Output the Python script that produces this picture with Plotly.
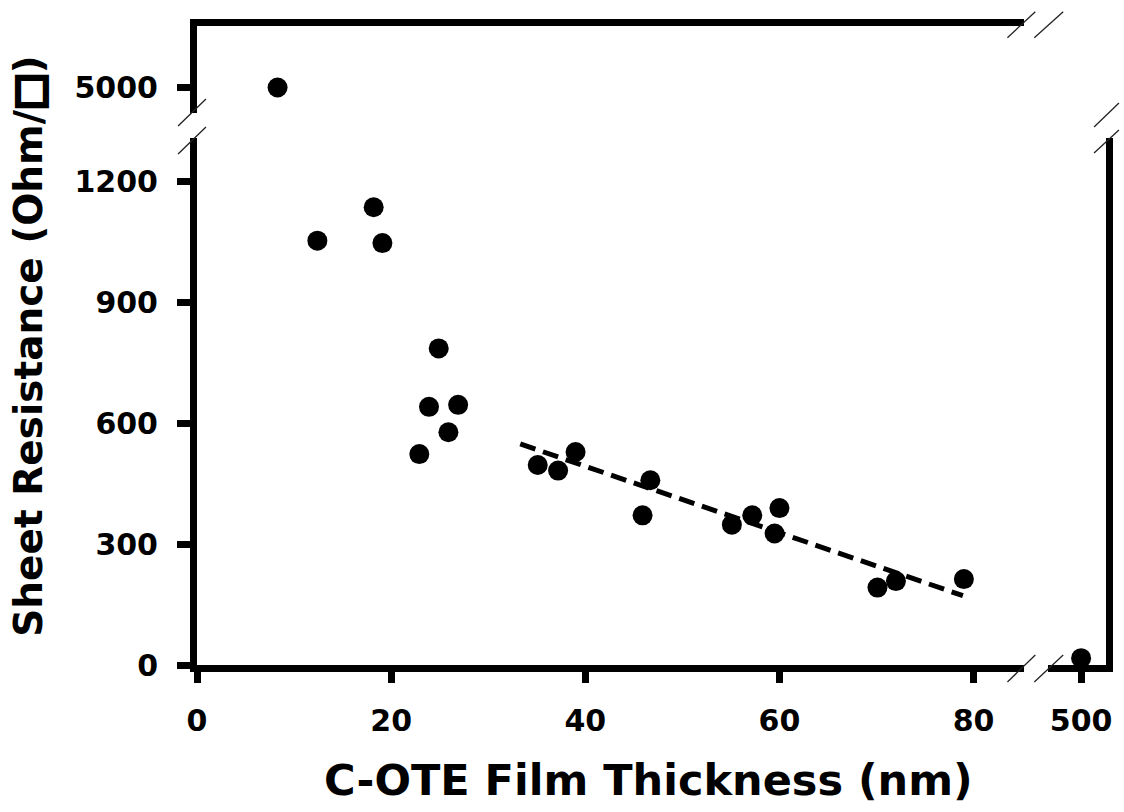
import plotly.graph_objects as go

# ---- data ----
thickness_nm = [12.4, 18.2, 19.1, 22.9, 23.9, 24.9, 25.9, 26.9, 35.1, 37.2, 39.0,
                45.9, 46.7, 55.1, 57.2, 59.5, 60.0, 70.1, 72.0, 79.0]
sheet_res = [1052, 1135, 1046, 523, 640, 785, 577, 645, 496, 482, 528,
             371, 458, 348, 371, 326, 389, 192, 208, 213]
high_thickness = [8.3]
high_res = [5000]
thick_film_nm = [500]
thick_film_res = [17]
fit_x = [33.3, 78.9]
fit_y = [548, 172]

x_ticks_low = [0, 20, 40, 60, 80]
x_ticks_high = [500]
y_ticks_low = [0, 300, 600, 900, 1200]
y_ticks_high = [5000]

# ---- geometry ----
L, R, T, B = 197, 14, 26, 147
W = 1124 - L - R
H = 812 - T - B
def px(X):
    return (X - L) / W
def py(Y):
    return (T + H - Y) / H

x_left_dom = [0, px(1028)]
x_right_dom = [px(1052), 1]
y_low_dom = [0, py(138)]
y_high_dom = [py(113), 1]

FONT = dict(family="DejaVu Sans", size=30, color="black", weight="bold")
LW = 7

fig = go.Figure()
marker = dict(color="black", size=20, line=dict(width=0))
fig.add_trace(go.Scatter(x=fit_x, y=fit_y, mode="lines", xaxis="x", yaxis="y",
                         line=dict(color="black", width=5, dash="16px,8px"),
                         showlegend=False, hoverinfo="skip"))
fig.add_trace(go.Scatter(x=thickness_nm, y=sheet_res, mode="markers", xaxis="x", yaxis="y",
                         marker=marker, showlegend=False))
fig.add_trace(go.Scatter(x=high_thickness, y=high_res, mode="markers", xaxis="x3", yaxis="y3",
                         marker=marker, showlegend=False))
fig.add_trace(go.Scatter(x=thick_film_nm, y=thick_film_res, mode="markers", xaxis="x2", yaxis="y2",
                         marker=marker, showlegend=False, cliponaxis=False))

xr_low = [0, 831 / 9.75]
xr_high = [500 - 33 / 9.75, 500 + 25 / 9.75]
ys = 484 / 1200
yr_low = [0, (665 - 138) / ys]
yr_high = [5000 - 25.5 / ys, 5000 + 61.5 / ys]

common = dict(showline=True, linewidth=LW, linecolor="black", showgrid=False,
              zeroline=False, tickfont=FONT, tickcolor="black", tickwidth=LW)
hidden = dict(ticks="", showticklabels=False)

fig.update_layout(
    width=1124, height=812,
    margin=dict(l=L, r=R, t=T, b=B),
    paper_bgcolor="white", plot_bgcolor="white",
    xaxis=dict(domain=x_left_dom, range=xr_low, anchor="y", side="bottom",
               tickvals=x_ticks_low, ticks="outside", ticklen=11, ticklabelstandoff=12, **common),
    xaxis2=dict(domain=x_right_dom, range=xr_high, anchor="y2", side="bottom",
                tickvals=x_ticks_high, ticks="outside", ticklen=11, ticklabelstandoff=12, **common),
    xaxis3=dict(domain=x_left_dom, range=xr_low, anchor="y3", side="top", **hidden, **common),
    xaxis4=dict(domain=x_right_dom, range=xr_high, anchor="y4", side="top", **hidden, **common),
    yaxis=dict(domain=y_low_dom, range=yr_low, anchor="x", side="left",
               tickvals=y_ticks_low, ticks="outside", ticklen=13, ticklabelstandoff=13, **common),
    yaxis2=dict(domain=y_low_dom, range=yr_low, anchor="x2", side="right", **hidden, **common),
    yaxis3=dict(domain=y_high_dom, range=yr_high, anchor="x3", side="left",
                tickvals=y_ticks_high, ticks="outside", ticklen=13, ticklabelstandoff=13, **common),
    yaxis4=dict(domain=y_high_dom, range=yr_high, anchor="x4", side="right", **hidden, **common),
)

# axis-break slashes (pixel positions converted to paper coordinates)
slashes = [
    ((1011, 37.7), (1039, 11.7)), ((1038, 37.7), (1067, 11.7)),   # top
    ((1011, 682), (1039, 655)), ((1038, 682), (1067, 655)),       # bottom
    ((178, 126), (206, 99)), ((178, 154), (206, 127)),           # left
    ((1098, 127), (1123, 103)), ((1098, 153), (1123, 130)),      # right
]
for (a, b) in slashes:
    fig.add_shape(type="line", xref="paper", yref="paper",
                  x0=px(a[0]), y0=py(a[1]), x1=px(b[0]), y1=py(b[1]),
                  line=dict(color="#222", width=1.3))

fig.add_annotation(text="C-OTE Film Thickness (nm)", xref="paper", yref="paper",
                   x=px(650), y=py(780), xanchor="center", yanchor="middle", showarrow=False,
                   font=dict(family="DejaVu Sans", size=43, color="black", weight="bold"))
fig.add_annotation(text="Sheet Resistance (Ohm/<span style=\"stroke:black;stroke-width:4px\">\u25a1</span>)",
                   xref="paper", yref="paper",
                   x=px(27), y=py(346), xanchor="center", yanchor="middle", showarrow=False,
                   textangle=-90,
                   font=dict(family="DejaVu Sans", size=39, color="black", weight="bold"))

fig.write_html("out.html", config={"displayModeBar": False},
               post_script="document.body.style.margin='0';document.body.style.overflow='hidden';")
